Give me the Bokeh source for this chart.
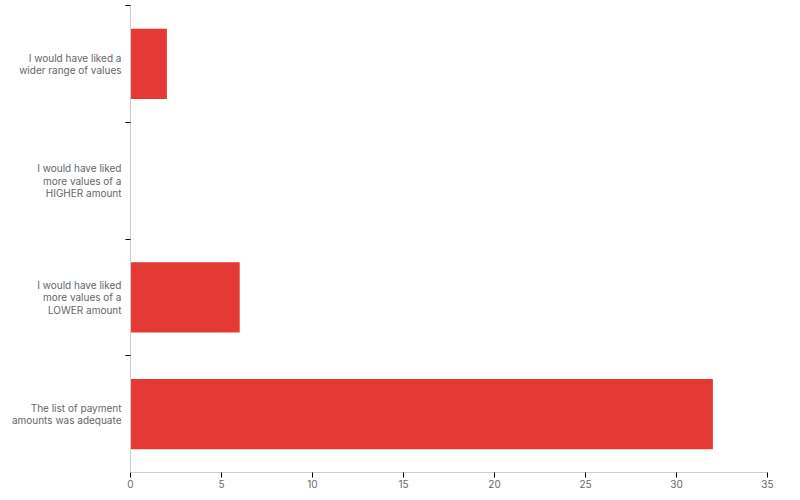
from bokeh.plotting import figure
from bokeh.models import Range1d, FixedTicker, ColumnDataSource
from bokeh.embed import file_html
from bokeh.resources import INLINE

categories = [
    "The list of payment\namounts was adequate",
    "I would have liked\nmore values of a\nLOWER amount",
    "I would have liked\nmore values of a\nHIGHER amount",
    "I would have liked a\nwider range of values",
]
counts = [32, 6, 0, 2]
x_ticks = [0, 5, 10, 15, 20, 25, 30, 35]

positions = [i + 0.5 for i in range(len(categories))]
boundaries = [float(i) for i in range(1, len(categories) + 1)]
src = ColumnDataSource(dict(y=positions, right=counts))

FONT = "Inter"
GRAY = "#666666"

p = figure(width=792, height=490, output_backend="svg", toolbar_location=None,
           x_range=Range1d(0, 35), y_range=Range1d(0, len(categories)),
           min_border_left=130, min_border_right=25, min_border_top=5, min_border_bottom=0)
p.hbar(y="y", right="right", left=0, height=0.6, source=src,
       fill_color="#e53935", line_color=None)

p.grid.visible = False
p.outline_line_color = None

xa = p.xaxis[0]
xa.ticker = FixedTicker(ticks=x_ticks)
xa.axis_line_color = "#cccccc"
xa.major_tick_line_color = "#000000"
xa.major_tick_out = 5
xa.major_tick_in = 0
xa.minor_tick_line_color = None
xa.major_label_text_font = FONT
xa.major_label_text_font_size = "10px"
xa.major_label_text_color = GRAY
xa.major_label_standoff = 2

ya = p.yaxis[0]
ya.ticker = FixedTicker(ticks=positions, minor_ticks=boundaries)
ya.axis_line_color = "#cccccc"
ya.major_tick_line_color = None
ya.major_tick_out = 0
ya.major_tick_in = 0
ya.minor_tick_line_color = "#000000"
ya.minor_tick_out = 5
ya.minor_tick_in = 0
ya.major_label_overrides = {pos: lab for pos, lab in zip(positions, categories)}
ya.major_label_text_font = FONT
ya.major_label_text_font_size = "10px"
ya.major_label_text_color = GRAY
ya.major_label_text_align = "right"
ya.major_label_text_line_height = 1.05
ya.major_label_standoff = 4

open("out.html", "w").write(file_html(p, INLINE))
